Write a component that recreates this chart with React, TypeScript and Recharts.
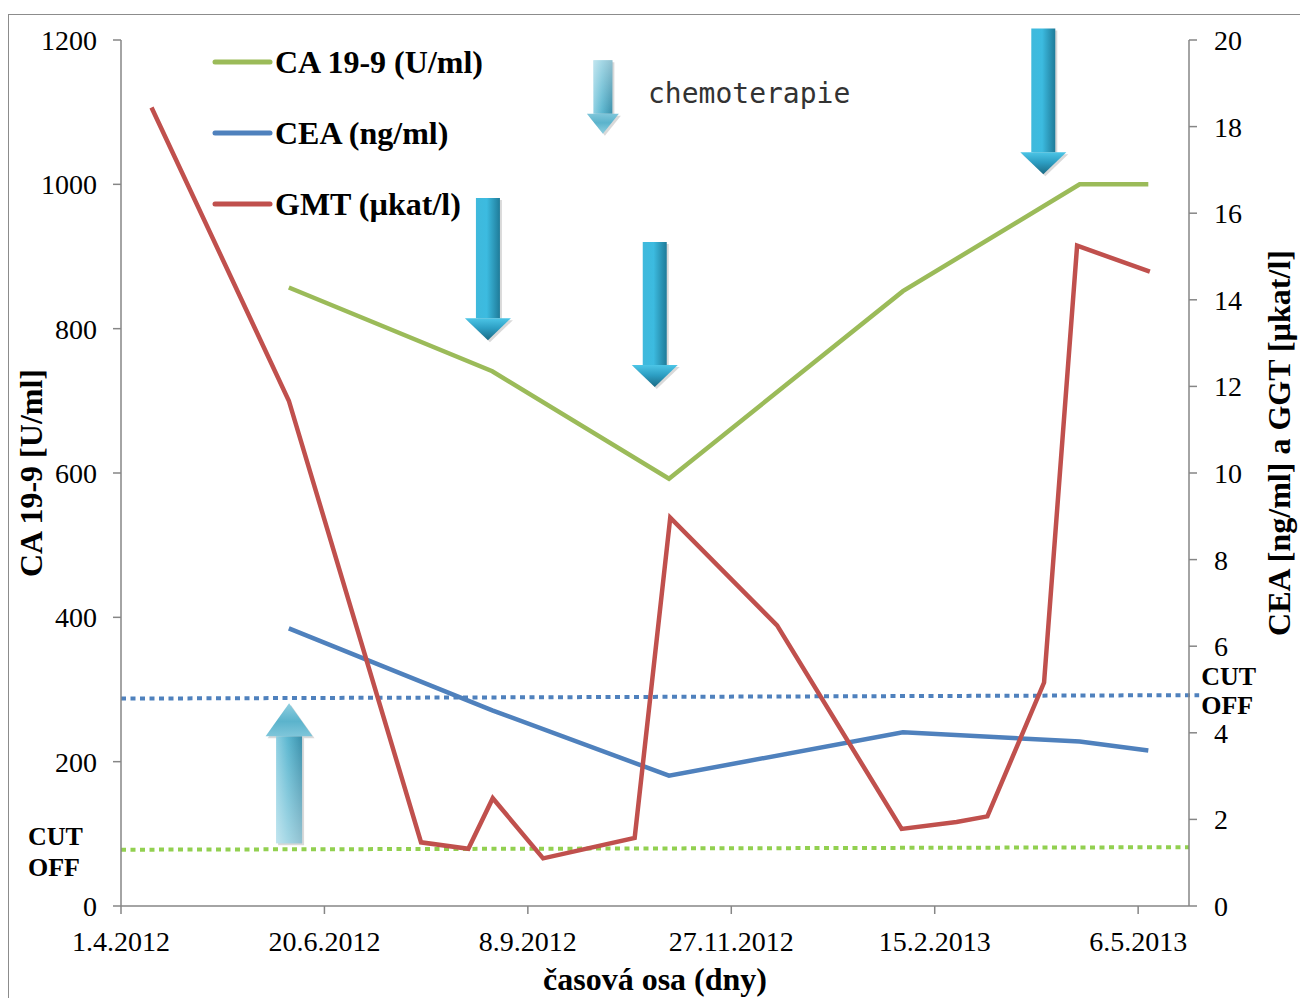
import React from "react";
import { ComposedChart, Line, XAxis, YAxis, ReferenceLine, Legend, Label } from "recharts";

// x values are days counted from 1.4.2012
const tickDays = [0, 80, 160, 240, 320, 400];
const tickDates = ["1.4.2012", "20.6.2012", "8.9.2012", "27.11.2012", "15.2.2013", "6.5.2013"];
const leftTicks = [0, 200, 400, 600, 800, 1000, 1200];
const rightTicks = [0, 2, 4, 6, 8, 10, 12, 14, 16, 18, 20];

const markerDays = [66, 146, 215.5, 307.5, 377, 404];
const ca199 = [857, 741, 592, 852, 1000, 1000];
const cea = [6.41, 4.52, 3.01, 4.01, 3.8, 3.59];

const gmtDays = [12, 66, 118, 136.6, 146.2, 166, 202, 216, 258, 307, 328.6, 340.7, 363, 376, 404.6];
const gmt = [18.44, 11.67, 1.47, 1.32, 2.49, 1.1, 1.57, 8.97, 6.48, 1.78, 1.94, 2.07, 5.16, 15.25, 14.65];

// cut-off lines, start and end
const caCutDays = [0, 420];
const caCut = [78, 81.5];
const ceaCutDays = [0, 424];
const ceaCut = [4.79, 4.87];

// arrows (left axis units): tail -> tip
const chemoDays = [144.3, 209.9, 362.7];
const chemoTail = [981, 920, 1216];
const chemoTip = [784, 719, 1014];
const keyArrowDay = 189.5;
const keyArrow = [1172, 1070];
const upArrowDay = 66.1;
const upArrow = [87, 281];

const legendNames = ["CA 19-9 (U/ml)", "CEA (ng/ml)", "GMT (µkat/l)"];

const GREEN = "#9BBB59";
const BLUE = "#4F81BD";
const RED = "#C0504D";
const AXIS = "#868686";
const SERIF = "'Liberation Serif', 'Times New Roman', serif";

const caData = markerDays.map((day, i) => ({ day, value: ca199[i] }));
const ceaData = markerDays.map((day, i) => ({ day, value: cea[i] }));
const gmtData = gmtDays.map((day, i) => ({ day, value: gmt[i] }));

type Look = { shaft: number; width: number; head: number; light: boolean };
const bigLook: Look = { shaft: 24, width: 46, head: 22, light: false };
const keyLook: Look = { shaft: 19, width: 32, head: 20, light: true };
const upLook: Look = { shaft: 26, width: 47, head: 33, light: true };

function arrowShape(id: string, look: Look) {
  return (p: any) => {
    const { x1, y1, x2, y2 } = p;
    const x = (x1 + x2) / 2;
    const dir = y2 > y1 ? 1 : -1;
    const yb = y2 - dir * look.head;
    const s = look.shaft / 2;
    const h = look.width / 2;
    const shaft = `M${x - s},${y1} L${x + s},${y1} L${x + s},${yb} L${x - s},${yb} Z`;
    const head = `M${x - h},${yb} L${x + h},${yb} L${x},${y2} Z`;
    const stops = look.light
      ? ["#8fd0e2", "#5cb7d0", "#3a90ab"]
      : ["#3fb9dc", "#3cbbe0", "#1f7b99"];
    return (
      <g>
        <defs>
          <linearGradient id={`${id}-s`} x1="0" y1="0" x2="1" y2="0">
            <stop offset="0" stopColor={stops[0]} />
            <stop offset="0.45" stopColor={stops[1]} />
            <stop offset="1" stopColor={stops[2]} />
          </linearGradient>
          <linearGradient id={`${id}-h`} x1="0" y1={dir > 0 ? 0 : 1} x2="0" y2={dir > 0 ? 1 : 0}>
            <stop offset="0" stopColor={look.light ? "#7fc6da" : "#4cc5e6"} />
            <stop offset="0.45" stopColor={look.light ? "#5bb3cc" : "#2d9fc4"} />
            <stop offset="1" stopColor={look.light ? "#8fcfe0" : "#1b6a84"} />
          </linearGradient>
          <linearGradient id={`${id}-f`} x1="0" y1={dir > 0 ? 1 : 0} x2="0" y2={dir > 0 ? 0 : 1}>
            <stop offset="0" stopColor="#fff" stopOpacity={0} />
            <stop offset="1" stopColor="#fff" stopOpacity={look.light ? 0.45 : 0} />
          </linearGradient>
        </defs>
        <path d={shaft} fill="#000" opacity={0.15} transform="translate(2,2)" />
        <path d={head} fill="#000" opacity={0.15} transform="translate(2,2)" />
        <path d={shaft} fill={`url(#${id}-s)`} />
        <path d={shaft} fill={`url(#${id}-f)`} />
        <path d={head} fill={`url(#${id}-h)`} />
      </g>
    );
  };
}

const cutLabelStyle = { fontFamily: SERIF, fontWeight: "bold" as const, fontSize: 26, fill: "#000" };

const xTick = (p: any) => (
  <text x={p.x} y={p.y} dy="0.71em" textAnchor="middle" fontFamily={SERIF} fontSize={28} fill="#000">
    {tickDates[tickDays.indexOf(p.payload.value)]}
  </text>
);
const leftTick = (p: any) => (
  <text x={p.x} y={p.y} dy="0.355em" textAnchor="end" fontFamily={SERIF} fontSize={28} fill="#000">
    {p.payload.value}
  </text>
);
const rightTick = (p: any) => (
  <text x={p.x} y={p.y} dy="0.355em" textAnchor="start" fontFamily={SERIF} fontSize={28} fill="#000">
    {p.payload.value}
  </text>
);

const renderLegend = () => (
  <svg width={700} height={200} style={{ overflow: "visible" }}>
    {legendNames.map((name, i) => (
      <g key={name}>
        <line x1={10} x2={65} y1={22 + i * 71} y2={22 + i * 71} stroke={[GREEN, BLUE, RED][i]} strokeWidth={5} strokeLinecap="round" />
        <text x={70} y={33 + i * 71} fontFamily={SERIF} fontWeight="bold" fontSize={32} fill="#000">{name}</text>
      </g>
    ))}
    <text x={443} y={63} fontFamily="'DejaVu Sans Mono', monospace" fontSize={28} fill="#333">chemoterapie</text>
  </svg>
);

export default function App() {
  return (
    <div style={{ position: "absolute", left: 0, top: 0, width: 1300, height: 998, overflow: "hidden", background: "#fff" }}>
      <div style={{ position: "absolute", left: 8, top: 14, width: 1400, height: 1100, borderLeft: "1.5px solid #8c8c8c", borderTop: "1.5px solid #8c8c8c" }} />
      <ComposedChart width={1300} height={998} margin={{ top: 40, right: 0, bottom: 0, left: 0 }} style={{ fontFamily: SERIF }}>
        <XAxis
          type="number"
          dataKey="day"
          domain={[0, 420]}
          ticks={tickDays}
          interval={0}
          height={92}
          tickSize={8}
          tickMargin={17}
          axisLine={{ stroke: AXIS, strokeWidth: 1.5 }}
          tickLine={{ stroke: AXIS, strokeWidth: 1.5 }}
          tick={xTick}
        >
          <Label
            content={(p: any) => (
              <text x={p.viewBox.x + p.viewBox.width / 2} y={p.viewBox.y + 84} textAnchor="middle" fontFamily={SERIF} fontWeight="bold" fontSize={32} fill="#000">
                časová osa (dny)
              </text>
            )}
          />
        </XAxis>
        <YAxis
          yAxisId="left"
          domain={[0, 1200]}
          ticks={leftTicks}
          interval={0}
          width={121}
          tickSize={8}
          tickMargin={16}
          axisLine={{ stroke: AXIS, strokeWidth: 1.5 }}
          tickLine={{ stroke: AXIS, strokeWidth: 1.5 }}
          tick={leftTick}
        >
          <Label
            content={(p: any) => {
              const cx = p.viewBox.x + 31;
              const cy = p.viewBox.y + p.viewBox.height / 2;
              return (
                <text x={cx} y={cy} dy={11} transform={`rotate(-90 ${cx} ${cy})`} textAnchor="middle" fontFamily={SERIF} fontWeight="bold" fontSize={32} fill="#000">
                  CA 19-9 [U/ml]
                </text>
              );
            }}
          />
        </YAxis>
        <YAxis
          yAxisId="right"
          orientation="right"
          domain={[0, 20]}
          ticks={rightTicks}
          interval={0}
          width={111}
          tickSize={8}
          tickMargin={17}
          axisLine={{ stroke: AXIS, strokeWidth: 1.5 }}
          tickLine={{ stroke: AXIS, strokeWidth: 1.5 }}
          tick={rightTick}
        >
          <Label
            content={(p: any) => {
              const cx = p.viewBox.x + 90;
              const cy = p.viewBox.y + p.viewBox.height / 2 - 30;
              return (
                <text x={cx} y={cy} dy={11} transform={`rotate(-90 ${cx} ${cy})`} textAnchor="middle" fontFamily={SERIF} fontWeight="bold" fontSize={32} fill="#000">
                  CEA [ng/ml] a GGT [µkat/l]
                </text>
              );
            }}
          />
        </YAxis>

        <Legend layout="vertical" align="center" verticalAlign="middle" content={renderLegend} wrapperStyle={{ left: 205, top: 40, width: 700, height: 200 }} />

        <ReferenceLine
          yAxisId="left"
          segment={[{ x: caCutDays[0], y: caCut[0] }, { x: caCutDays[1], y: caCut[1] }]}
          stroke="#92D050"
          strokeWidth={4}
          strokeDasharray="5 4.5"
          ifOverflow="visible"
          label={(p: any) => (
            <g>
              <text x={p.viewBox.x - 93} y={p.viewBox.y + p.viewBox.height - 5} {...cutLabelStyle}>CUT</text>
              <text x={p.viewBox.x - 93} y={p.viewBox.y + p.viewBox.height + 26} {...cutLabelStyle}>OFF</text>
            </g>
          )}
        />
        <ReferenceLine
          yAxisId="right"
          segment={[{ x: ceaCutDays[0], y: ceaCut[0] }, { x: ceaCutDays[1], y: ceaCut[1] }]}
          stroke={BLUE}
          strokeWidth={4}
          strokeDasharray="5 4.5"
          ifOverflow="visible"
          label={(p: any) => (
            <g>
              <text x={p.viewBox.x + p.viewBox.width + 2} y={p.viewBox.y - 10.5} {...cutLabelStyle}>CUT</text>
              <text x={p.viewBox.x + p.viewBox.width + 2} y={p.viewBox.y + 18.5} {...cutLabelStyle}>OFF</text>
            </g>
          )}
        />

        <Line yAxisId="left" data={caData} dataKey="value" name="CA 19-9 (U/ml)" stroke={GREEN} strokeWidth={4.5} dot={false} activeDot={false} isAnimationActive={false} />
        <Line yAxisId="right" data={ceaData} dataKey="value" name="CEA (ng/ml)" stroke={BLUE} strokeWidth={4.5} dot={false} activeDot={false} isAnimationActive={false} />
        <Line yAxisId="right" data={gmtData} dataKey="value" name="GMT (µkat/l)" stroke={RED} strokeWidth={4.5} dot={false} activeDot={false} isAnimationActive={false} />

        {chemoDays.map((day, i) => (
          <ReferenceLine
            key={`chemo-${i}`}
            yAxisId="left"
            segment={[{ x: day, y: chemoTail[i] }, { x: day, y: chemoTip[i] }]}
            ifOverflow="visible"
            shape={arrowShape(`chemo-${i}`, bigLook)}
          />
        ))}
        <ReferenceLine
          yAxisId="left"
          segment={[{ x: keyArrowDay, y: keyArrow[0] }, { x: keyArrowDay, y: keyArrow[1] }]}
          ifOverflow="visible"
          shape={arrowShape("key", keyLook)}
        />
        <ReferenceLine
          yAxisId="left"
          segment={[{ x: upArrowDay, y: upArrow[0] }, { x: upArrowDay, y: upArrow[1] }]}
          ifOverflow="visible"
          shape={arrowShape("up", upLook)}
        />
      </ComposedChart>
    </div>
  );
}
